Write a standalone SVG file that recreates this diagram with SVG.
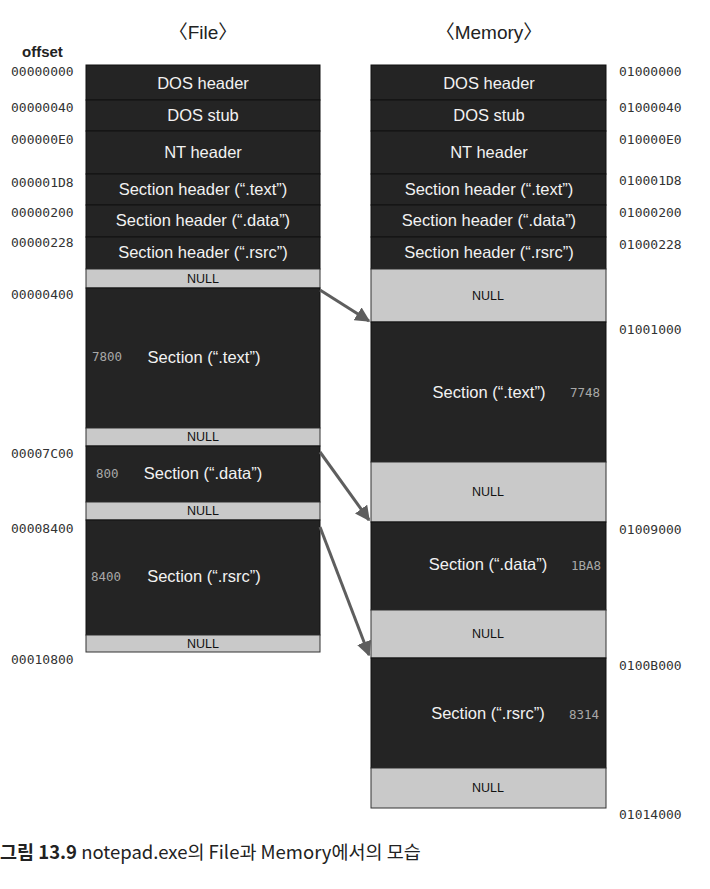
<svg xmlns="http://www.w3.org/2000/svg" width="710" height="889" viewBox="0 0 710 889">
<defs>
<style>
.dk{fill:#242424;stroke:#111;stroke-width:1}
.nl{fill:#c9c9c9;stroke:#333;stroke-width:1}
.wt{font-family:"Liberation Sans",Arial,sans-serif;font-size:16.5px;fill:#f2f2f2;text-anchor:middle}
.bt{font-family:"Liberation Sans",Arial,sans-serif;font-size:12.5px;fill:#111;text-anchor:middle}
.addr{font-family:"DejaVu Sans Mono","Liberation Mono",monospace;font-size:13px;fill:#333}
.sz{font-family:"DejaVu Sans Mono","Liberation Mono",monospace;font-size:12.5px;fill:#a8a8a8}
.title{font-family:"Liberation Sans","Noto Sans CJK KR",sans-serif;font-size:19px;fill:#222;text-anchor:middle}
.arr{stroke:#5e5e5e;stroke-width:3;fill:none;marker-end:url(#ah)}
</style>
<marker id="ah" viewBox="0 0 10 10" refX="9" refY="5" markerWidth="5" markerHeight="5" orient="auto" markerUnits="strokeWidth">
<path d="M0,0 L10,5 L0,10 z" fill="#5e5e5e"/>
</marker>
</defs>
<rect width="710" height="889" fill="#fff"/>

<text class="title" x="203" y="39">〈File〉</text>
<text class="title" x="489" y="39">〈Memory〉</text>
<text x="22" y="57" style="font-family:'Liberation Sans',Arial,sans-serif;font-size:15px;font-weight:bold;fill:#222">offset</text>

<g id="file">
<g id="f-dos-header"><rect class="dk" x="86" y="65" width="234" height="35"/><text class="wt" x="203" y="89">DOS header</text></g>
<g id="f-dos-stub"><rect class="dk" x="86" y="100" width="234" height="31"/><text class="wt" x="203" y="121">DOS stub</text></g>
<g id="f-nt-header"><rect class="dk" x="86" y="131" width="234" height="43"/><text class="wt" x="203" y="158">NT header</text></g>
<g id="f-sh-text"><rect class="dk" x="86" y="174" width="234" height="31"/><text class="wt" x="203" y="195">Section header (“.text”)</text></g>
<g id="f-sh-data"><rect class="dk" x="86" y="205" width="234" height="32"/><text class="wt" x="203" y="226">Section header (“.data”)</text></g>
<g id="f-sh-rsrc"><rect class="dk" x="86" y="237" width="234" height="32"/><text class="wt" x="203" y="258">Section header (“.rsrc”)</text></g>
<g id="f-null1"><rect class="nl" x="86" y="269" width="234" height="19"/><text class="bt" x="203" y="283">NULL</text></g>
<g id="f-sec-text"><rect class="dk" x="86" y="288" width="234" height="140"/><text class="wt" x="204" y="363">Section (“.text”)</text><text class="sz" x="92" y="361">7800</text></g>
<g id="f-null2"><rect class="nl" x="86" y="428" width="234" height="18"/><text class="bt" x="203" y="441">NULL</text></g>
<g id="f-sec-data"><rect class="dk" x="86" y="446" width="234" height="56"/><text class="wt" x="203" y="479">Section (“.data”)</text><text class="sz" x="96" y="478">800</text></g>
<g id="f-null3"><rect class="nl" x="86" y="502" width="234" height="18"/><text class="bt" x="203" y="515">NULL</text></g>
<g id="f-sec-rsrc"><rect class="dk" x="86" y="520" width="234" height="115"/><text class="wt" x="204" y="582">Section (“.rsrc”)</text><text class="sz" x="91" y="581">8400</text></g>
<g id="f-null4"><rect class="nl" x="86" y="635" width="234" height="17"/><text class="bt" x="203" y="648">NULL</text></g>
</g>

<g id="memory">
<g id="m-dos-header"><rect class="dk" x="371" y="65" width="235" height="35"/><text class="wt" x="489" y="89">DOS header</text></g>
<g id="m-dos-stub"><rect class="dk" x="371" y="100" width="235" height="31"/><text class="wt" x="489" y="121">DOS stub</text></g>
<g id="m-nt-header"><rect class="dk" x="371" y="131" width="235" height="43"/><text class="wt" x="489" y="158">NT header</text></g>
<g id="m-sh-text"><rect class="dk" x="371" y="174" width="235" height="31"/><text class="wt" x="489" y="195">Section header (“.text”)</text></g>
<g id="m-sh-data"><rect class="dk" x="371" y="205" width="235" height="32"/><text class="wt" x="489" y="226">Section header (“.data”)</text></g>
<g id="m-sh-rsrc"><rect class="dk" x="371" y="237" width="235" height="32"/><text class="wt" x="489" y="258">Section header (“.rsrc”)</text></g>
<g id="m-null1"><rect class="nl" x="371" y="269" width="235" height="53"/><text class="bt" x="488" y="300">NULL</text></g>
<g id="m-sec-text"><rect class="dk" x="371" y="322" width="235" height="140"/><text class="wt" x="489" y="398">Section (“.text”)</text><text class="sz" x="570" y="397">7748</text></g>
<g id="m-null2"><rect class="nl" x="371" y="462" width="235" height="60"/><text class="bt" x="488" y="496">NULL</text></g>
<g id="m-sec-data"><rect class="dk" x="371" y="522" width="235" height="88"/><text class="wt" x="488" y="570">Section (“.data”)</text><text class="sz" x="571" y="570">1BA8</text></g>
<g id="m-null3"><rect class="nl" x="371" y="610" width="235" height="48"/><text class="bt" x="488" y="638">NULL</text></g>
<g id="m-sec-rsrc"><rect class="dk" x="371" y="658" width="235" height="110"/><text class="wt" x="488" y="719">Section (“.rsrc”)</text><text class="sz" x="569" y="719">8314</text></g>
<g id="m-null4"><rect class="nl" x="371" y="768" width="235" height="40"/><text class="bt" x="488" y="792">NULL</text></g>
</g>

<g id="file-offsets">
<text class="addr" x="11" y="76">00000000</text>
<text class="addr" x="11" y="112">00000040</text>
<text class="addr" x="11" y="144">000000E0</text>
<text class="addr" x="11" y="187">000001D8</text>
<text class="addr" x="11" y="217">00000200</text>
<text class="addr" x="11" y="247">00000228</text>
<text class="addr" x="11" y="299">00000400</text>
<text class="addr" x="11" y="458">00007C00</text>
<text class="addr" x="11" y="533">00008400</text>
<text class="addr" x="11" y="664">00010800</text>
</g>
<g id="mem-addrs">
<text class="addr" x="619" y="76">01000000</text>
<text class="addr" x="619" y="112">01000040</text>
<text class="addr" x="619" y="144">010000E0</text>
<text class="addr" x="619" y="185">010001D8</text>
<text class="addr" x="619" y="217">01000200</text>
<text class="addr" x="619" y="249">01000228</text>
<text class="addr" x="619" y="334">01001000</text>
<text class="addr" x="619" y="534">01009000</text>
<text class="addr" x="619" y="670">0100B000</text>
<text class="addr" x="619" y="819">01014000</text>
</g>

<g id="connectors">
<line class="arr" x1="320" y1="290" x2="369" y2="321"/>
<line class="arr" x1="320" y1="452" x2="369" y2="520"/>
<line class="arr" x1="320" y1="527" x2="369" y2="655"/>
</g>

<text x="0" y="859" style="font-family:'Noto Sans CJK KR',sans-serif;font-size:18.5px;fill:#222"><tspan font-weight="bold">그림 13.9</tspan> notepad.exe의 File과 Memory에서의 모습</text>
</svg>
